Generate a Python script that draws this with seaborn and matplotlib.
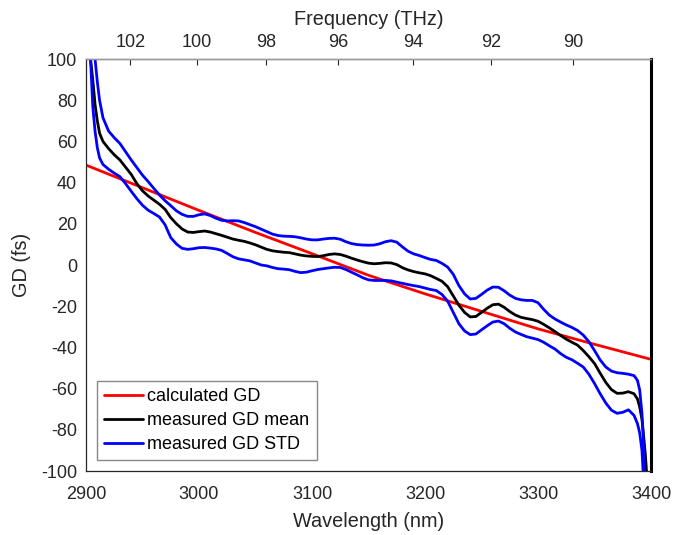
import numpy as np
import pandas as pd
import matplotlib
matplotlib.use("Agg")
import matplotlib.pyplot as plt
import seaborn as sns

# ---------------- data ----------------
C_NM_THZ = 299792.458

wl_calc = [2900, 2950, 3000, 3050, 3100, 3150, 3200, 3250, 3300, 3350, 3400]
gd_calc = [48.5, 37.5, 26.5, 15.8, 5.5, -5.0, -14.0, -22.5, -31.0, -38.5, -45.8]

wl_mid = list(range(2915, 3390, 5))  # 2915 ... 3385

wl_mean = [2902, 2904, 2906, 2908, 2910, 2912] + wl_mid + [3388, 3390, 3392, 3394, 3395, 3396, 3397]
gd_mean = [120, 100, 90, 78, 70, 64,
           60, 56.5, 53.5, 51, 47.5, 44, 39.5, 36, 33.5, 31.5,
           29.5, 27, 23, 20, 17.5, 16, 15.8, 16.2, 16.5, 16,
           15.2, 14.4, 13.5, 12.6, 12, 11.5, 10.7, 9.8, 8.7, 7.6,
           6.9, 6.5, 6.2, 6, 5.4, 4.8, 4.4, 4.2, 4.1, 4.5,
           5.1, 5.4, 5.1, 4.3, 3.3, 2.4, 1.6, 0.9, 0.6, 0.8,
           1.1, 1.0, 0.2, -1.3, -2.4, -3.2, -3.8, -4.3, -5.2, -6.5,
           -7.9, -10.5, -15, -19.5, -23, -25.2, -25, -23, -21, -19.3,
           -19, -20.5, -22.6, -24.3, -25.4, -26, -26.5, -27.3, -28.8, -30.5,
           -32.3, -34.2, -36, -37.5, -38.9, -41.5, -44.5, -47.8, -52.5, -57,
           -60.5, -62.3, -62.2, -61.5, -62.5,
           -65, -69, -75, -86, -92, -100, -115]

wl_upper = [2906, 2908, 2910, 2912] + wl_mid + [3388, 3390, 3392, 3393, 3394, 3395]
gd_upper = [115, 100, 89, 80,
            71.5, 65, 61.8, 59, 55, 51, 47.3, 43.6, 40.5, 37.2,
            34, 31.2, 28.8, 26.3, 24.6, 23.6, 23.6, 24.4, 24.8, 24,
            22.7, 21.7, 21.4, 21.5, 21.4, 20.6, 19.6, 18.6, 17.4, 16.2,
            15, 14.3, 14, 13.9, 13.7, 13.2, 12.6, 12.2, 12.2, 12.6,
            12.9, 13, 12.5, 11.3, 10.4, 9.9, 9.7, 9.6, 9.7, 10.3,
            11.3, 11.8, 11.1, 8.8, 6.7, 5.4, 4.6, 3.6, 2.7, 2.2,
            0.8, -1, -4.5, -10, -14, -16.5, -16.2, -14.3, -12.2, -10.7,
            -10.8, -12.5, -14.6, -16.2, -16.9, -17.2, -17.2, -18.3, -21.5, -24.3,
            -26.2, -27.7, -29.1, -30.3, -31.8, -34, -37.2, -41.5, -46.1, -49.5,
            -51.5, -52.3, -52.6, -53, -53.7,
            -56, -60.7, -72, -82, -100, -115]

wl_lower = [2903, 2904, 2906, 2908, 2910, 2912] + wl_mid + [3388, 3390, 3392, 3393, 3394]
gd_lower = [115, 100, 77, 65, 57, 52,
            48.8, 46.5, 44.6, 42.9, 39.5, 35.8, 32.2, 29, 26.6, 25,
            23.3, 19.5, 13.3, 10.2, 8.1, 7.6, 7.9, 8.4, 8.5, 8.2,
            7.8, 7.1, 5.6, 4.0, 3.0, 2.5, 2.0, 1.0, 0, -0.4,
            -1.2, -1.8, -2, -2.3, -3.1, -3.7, -3.5, -2.8, -2.2, -1.8,
            -1.4, -1.1, -1.2, -2.2, -3.5, -4.8, -6.2, -7.2, -7.5, -7.5,
            -7.5, -7.7, -8.3, -8.9, -9.5, -10, -10.5, -11.2, -11.9, -12.4,
            -14.3, -17.5, -23, -28.5, -32, -33.8, -33.5, -31.5, -29.5, -27.7,
            -27.2, -28.5, -30.7, -32.5, -33.7, -34.8, -35.5, -36.2, -37.5, -39.2,
            -40.8, -43, -44.8, -46, -47.7, -49.5, -53, -57.5, -62.5, -67,
            -70.5, -72, -71.5, -70.3, -73,
            -77, -81.5, -90, -100, -115]

freq_ticks = [102, 100, 98, 96, 94, 92, 90]
x_ticks = [2900, 3000, 3100, 3200, 3300, 3400]
y_ticks = [-100, -80, -60, -40, -20, 0, 20, 40, 60, 80, 100]

# ---------------- plot ----------------
sns.set_theme(style="white")
plt.rcParams['font.family'] = ['Liberation Sans', 'DejaVu Sans']
plt.rcParams['axes.unicode_minus'] = False

TICK_FS = 13
LABEL_FS = 14.3
TXT = "#262626"

fig = plt.figure(figsize=(6.88, 5.35), dpi=100)
ax = fig.add_axes([86 / 688, 1 - 471 / 535, (651 - 86) / 688, (471 - 59) / 535])

df_calc = pd.DataFrame({"wl": wl_calc, "gd": gd_calc})
df_mean = pd.DataFrame({"wl": wl_mean, "gd": gd_mean})
df_up = pd.DataFrame({"wl": wl_upper, "gd": gd_upper})
df_lo = pd.DataFrame({"wl": wl_lower, "gd": gd_lower})

lw = 2.0
sns.lineplot(data=df_calc, x="wl", y="gd", ax=ax, color="#ff0000", lw=lw,
             sort=False, estimator=None, label="calculated GD")
sns.lineplot(data=df_mean, x="wl", y="gd", ax=ax, color="#000000", lw=lw,
             sort=False, estimator=None, label="measured GD mean")
sns.lineplot(data=df_up, x="wl", y="gd", ax=ax, color="#0000ff", lw=lw,
             sort=False, estimator=None, label="measured GD STD")
sns.lineplot(data=df_lo, x="wl", y="gd", ax=ax, color="#0000ff", lw=lw,
             sort=False, estimator=None)

ax.set_xlim(2900, 3400)
ax.set_ylim(-100, 100)
ax.set_xticks(x_ticks)
ax.set_yticks(y_ticks)
ax.set_xlabel("Wavelength (nm)", fontsize=LABEL_FS, color=TXT, labelpad=6)
ax.set_ylabel("GD (fs)", fontsize=LABEL_FS, color=TXT, labelpad=7)
ax.tick_params(axis="both", which="both", direction="in", length=4.3, width=0.8,
               labelsize=TICK_FS, colors=TXT)
ax.tick_params(axis="x", pad=11)
ax.tick_params(axis="y", pad=6.5)
ax.tick_params(top=False, right=False)

for side in ["left", "bottom"]:
    ax.spines[side].set_color(TXT)
    ax.spines[side].set_linewidth(0.9)
ax.spines["right"].set_color("#000000")
ax.spines["right"].set_linewidth(2.2)
ax.spines["top"].set_color("#999999")
ax.spines["top"].set_linewidth(1.0)

secax = ax.secondary_xaxis("top", functions=(lambda w: C_NM_THZ / np.asarray(w, dtype=float),
                                             lambda f: C_NM_THZ / np.asarray(f, dtype=float)))
secax.set_xticks(freq_ticks)
secax.set_xticklabels([str(t) for t in freq_ticks])
secax.set_xlabel("Frequency (THz)", fontsize=LABEL_FS, color=TXT, labelpad=6.5)
secax.tick_params(direction="in", length=4.3, width=0.8, labelsize=TICK_FS, colors=TXT, pad=6)
secax.spines["top"].set_color("#999999")
secax.spines["top"].set_linewidth(1.0)

leg = ax.legend(loc="lower left", fontsize=13, frameon=True, fancybox=False,
                framealpha=1, edgecolor="#888888", borderaxespad=0.6,
                handlelength=2.15, handletextpad=0.25, labelspacing=0.38,
                borderpad=0.4)
leg.get_frame().set_linewidth(1.0)
for t in leg.get_texts():
    t.set_color("#000000")

fig.savefig("out.png", dpi=100)
